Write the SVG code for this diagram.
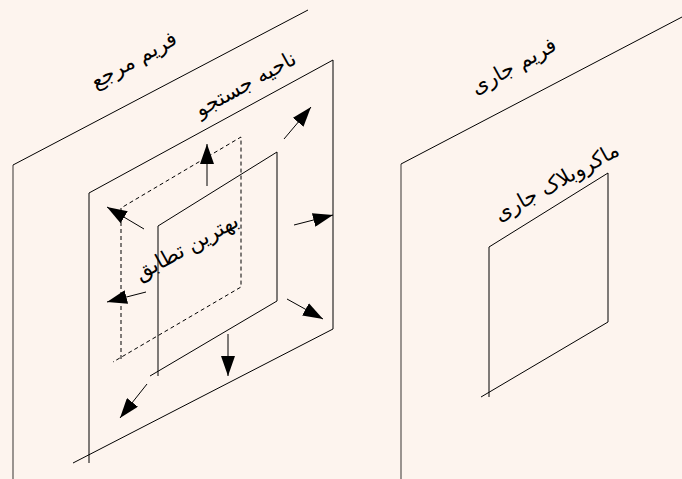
<svg xmlns="http://www.w3.org/2000/svg" width="682" height="479" viewBox="0 0 682 479">
<style>
.ln{fill:none;stroke:#000;stroke-width:1}
.fr{fill:none;stroke:#6f6a67;stroke-width:1.4}
.ds{fill:none;stroke:#000;stroke-width:1;stroke-dasharray:4 3}
.ar{fill:none;stroke:#000;stroke-width:1;marker-end:url(#ah)}
.tx{font-family:"DejaVu Serif","DejaVu Sans",serif;font-size:21px;fill:#000;text-anchor:middle}
</style>
<defs>
<marker id="ah" markerUnits="userSpaceOnUse" markerWidth="20" markerHeight="14" refX="20" refY="7" orient="auto">
<path d="M0,0 L20,7 L0,14 z" fill="#000"/>
</marker>
</defs>
<rect width="682" height="479" fill="#fdf4ee"/>
<g id="reference-frame">
<path class="fr" d="M13,479 V165"/>
<path class="ln" d="M13,165 L308,10"/>
<text class="tx" transform="translate(137,66) rotate(-29)">فریم مرجع</text>
</g>
<g id="search-region">
<path class="ln" d="M89,463 V193 L333,60 V329 L73,463"/>
<text class="tx" transform="translate(249,90) rotate(-29)">ناحیه جستجو</text>
</g>
<g id="best-match">
<path class="ds" d="M121,359 V208 L241,137 V287 L113,362"/>
<text class="tx" transform="translate(190,253) rotate(-29)">بهترین تطابق</text>
</g>
<g id="block-position">
<path class="ln" d="M158,376 V226 L277,152 V301 L150,376"/>
</g>
<g id="current-frame">
<path class="fr" d="M401,479 V164"/>
<path class="ln" d="M401,164 L682,17"/>
<text class="tx" transform="translate(517,72) rotate(-29)">فریم جاری</text>
</g>
<g id="current-macroblock">
<path class="ln" d="M489,397 V247 L608,173 V322 L481,397"/>
<text class="tx" transform="translate(560,188) rotate(-29)">ماکروبلاک جاری</text>
</g>
<g id="connectors">
<path class="ar" d="M207,186 L207,144"/>
<path class="ar" d="M284,139 L311,107"/>
<path class="ar" d="M294,225 L333,215"/>
<path class="ar" d="M144,229 L107,207"/>
<path class="ar" d="M146,292 L107,302"/>
<path class="ar" d="M287,299 L323,319"/>
<path class="ar" d="M228,334 L228,376"/>
<path class="ar" d="M147,384 L120,418"/>
</g>
</svg>
